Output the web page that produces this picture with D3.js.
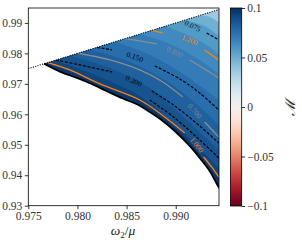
<!DOCTYPE html>
<html><head><meta charset="utf-8">
<script src="https://cdn.jsdelivr.net/npm/d3@7"></script>
<style>body{margin:0;background:#fff}text{font-family:"Liberation Serif","DejaVu Serif",serif}</style>
</head><body><svg id="c" width="302" height="243"></svg>
<script>
// ---------- data ----------
const xTicks = [0.975, 0.980, 0.985, 0.990];
const yTicks = [0.93, 0.94, 0.95, 0.96, 0.97, 0.98, 0.99];
const cbTicks = [0.1, 0.05, 0, -0.05, -0.1];
const xDomain = [0.975, 0.9944];
const yDomain = [0.93, 0.9949];
const cbDomain = [-0.1, 0.1];

// existence (lower) boundary
const lowerBoundary = [[0.97660,0.97660],[0.97822,0.97401],[0.97995,0.97194],[0.98127,0.97020],[0.98296,0.96767],
  [0.98462,0.96521],[0.98634,0.96284],[0.98736,0.96077],[0.98868,0.95782],[0.98990,0.95453],[0.99142,0.94961],
  [0.99244,0.94566],[0.99345,0.94140],[0.99437,0.93614],[0.99470,0.93480]];

// M value of each filled band, from top-right (lightest) to bottom (darkest)
const bandValues = [0.036, 0.048, 0.057, 0.064, 0.070, 0.076, 0.082, 0.087, 0.092, 0.097];
// band edges (contourf boundaries), each from the diagonal to the right edge
const edge1 = [[0.99244,0.99244],[0.99345,0.99197],[0.99437,0.99033]];
const edge2 = [[0.99091,0.99091],[0.99294,0.98901],[0.99437,0.98573]];
const edge3 = [[0.98888,0.98888],[0.99142,0.98573],[0.99345,0.98212],[0.99437,0.97982]];
const edge4 = [[0.98634,0.98634],[0.98939,0.98310],[0.99244,0.97785],[0.99437,0.97325]];
const edge5 = [[0.98380,0.98380],[0.98736,0.97949],[0.99091,0.97292],[0.99437,0.96471]];
const edge6 = [[0.98127,0.98127],[0.98533,0.97719],[0.98939,0.97029],[0.99244,0.96241],[0.99437,0.95650]];
const edge7 = [[0.97923,0.97923],[0.98330,0.97522],[0.98736,0.96865],[0.99091,0.95880],[0.99437,0.94829]];
const edge8 = [[0.97771,0.97771],[0.98228,0.97227],[0.98634,0.96603],[0.98990,0.95683],[0.99437,0.94238]];
const edge9 = [[0.97690,0.97690],[0.98127,0.97128],[0.98634,0.96438],[0.99041,0.95420],[0.99437,0.93910]];
const bandEdges = [edge1, edge2, edge3, edge4, edge5, edge6, edge7, edge8, edge9];

// overlaid contour lines (segments broken by their inline labels)
const dashed075 = {text:"0.075", label:[0.99173,0.98901],
  segs:[[[0.99315,0.98672],[0.99437,0.98442]]]};
const dashed150 = {text:"0.150", label:[0.98584,0.97883],
  segs:[[[0.98198,0.98198],[0.98350,0.98113]],
        [[0.98787,0.97588],[0.99041,0.97161],[0.99244,0.96701],[0.99437,0.96143]]]};
const dashed200 = {text:"0.200", label:[0.98573,0.97095],
  segs:[[[0.97781,0.97781],[0.98025,0.97621],[0.98350,0.97391]],
        [[0.98756,0.96767],[0.98990,0.96274],[0.99244,0.95617],[0.99437,0.95059]]]};
const dashed250 = {text:null, label:null,
  segs:[[[0.98736,0.96471],[0.98990,0.95880],[0.99244,0.95158],[0.99437,0.94566]]]};
const gray800 = {text:"0.800", label:[0.98990,0.98048],
  segs:[[[0.98482,0.98482],[0.98634,0.98409],[0.98807,0.98310]],
        [[0.99142,0.97785],[0.99294,0.97489],[0.99437,0.97194]]]};
const gray700 = {text:"0.700", label:[0.99193,0.96110],
  segs:[[[0.98005,0.98005],[0.98330,0.97785],[0.98634,0.97456],[0.98868,0.97062],[0.99071,0.96570]],
        [[0.99294,0.95749],[0.99437,0.95256]]]};
const orange1200 = {text:"1.200", label:[0.99142,0.98442],
  segs:[[[0.98756,0.98756],[0.98868,0.98672]],
        [[0.99294,0.98113],[0.99437,0.97785]]]};
const orange1000 = {text:"1.000", label:[0.99213,0.94993],
  segs:[[[0.97700,0.97700],[0.97923,0.97456],[0.98228,0.96997],[0.98634,0.96471],[0.98888,0.95913],[0.99091,0.95387]],
        [[0.99284,0.94599],[0.99365,0.94271],[0.99437,0.93943]]]};

// ---------- layout ----------
const svg = d3.select("#c");
const x = d3.scaleLinear().domain(xDomain).range([28.3, 219]);
const y = d3.scaleLinear().domain(yDomain).range([205.7, 8]);
const cb = d3.scaleLinear().domain(cbDomain).range([206, 8]);
const color = v => d3.interpolateRdBu((v - cbDomain[0]) / (cbDomain[1] - cbDomain[0]));

const defs = svg.append("defs");
defs.append("clipPath").attr("id","axclip").append("rect")
  .attr("x",x(xDomain[0])).attr("y",y(yDomain[1]))
  .attr("width",x(xDomain[1])-x(xDomain[0])).attr("height",y(yDomain[0])-y(yDomain[1]));

const smooth = d3.line().x(d=>x(d[0])).y(d=>y(d[1])).curve(d3.curveCatmullRom.alpha(0.5));
const regionD = smooth(lowerBoundary) + "L" + x(0.9960) + "," + y(0.9300) + "L" + x(0.9960) + "," + y(0.9960) + "Z";
defs.append("clipPath").attr("id","regclip").append("path").attr("d", regionD);

const gAx = svg.append("g").attr("clip-path","url(#axclip)");
const gReg = gAx.append("g").attr("clip-path","url(#regclip)");

// bands
gReg.append("rect").attr("x",0).attr("y",0).attr("width",302).attr("height",243).attr("fill",color(bandValues[0]));
bandEdges.forEach((e,i) => {
  const last = e[e.length-1];
  const d = smooth(e) + "L" + x(0.9960) + "," + y(last[1]) + "L" + x(0.9960) + "," + y(0.92)
    + "L" + x(0.970) + "," + y(0.92) + "L" + x(0.970) + "," + y(0.970) + "Z";
  gReg.append("path").attr("d", d).attr("fill", color(bandValues[i+1]));
});

// contour lines
function drawContour(c, stroke, dash, width){
  c.segs.forEach(s => {
    gReg.append("path").attr("d", smooth(s)).attr("fill","none").attr("stroke",stroke)
      .attr("stroke-width",width).attr("stroke-dasharray",dash);
  });
  if (c.text) {
    const pts = c.segs.flat().slice().sort((a,b)=>a[0]-b[0]);
    let before = pts.filter(p=>p[0]<c.label[0]).pop();
    let after = pts.find(p=>p[0]>c.label[0]);
    if (!before) { before = c.label; }
    if (!after) { after = c.label; }
    const ang = Math.atan2(y(after[1])-y(before[1]), x(after[0])-x(before[0]))*180/Math.PI;
    gAx.append("text").attr("transform",`translate(${x(c.label[0])},${y(c.label[1])}) rotate(${ang})`)
      .attr("text-anchor","middle").attr("dominant-baseline","central")
      .attr("font-size",7.5).attr("fill",stroke).text(c.text);
  }
}
[dashed075, dashed150, dashed200, dashed250].forEach(c => drawContour(c, "#000", "3,1.6", 1.2));
[gray800, gray700].forEach(c => drawContour(c, "#8c8c8c", null, 1.3));
[orange1200, orange1000].forEach(c => drawContour(c, "#ff7f0e", null, 1.3));

// boundary lines
gAx.append("path").attr("d", smooth(lowerBoundary)).attr("fill","none").attr("stroke","#000").attr("stroke-width",1.8);
gAx.append("path").attr("d", d3.line().x(d=>x(d[0])).y(d=>y(d[1]))([[xDomain[0],xDomain[0]],[xDomain[1],xDomain[1]]]))
  .attr("fill","none").attr("stroke","#000").attr("stroke-width",1.1).attr("stroke-dasharray","1.1,1.3");

// axes frame
svg.append("rect").attr("x",x(xDomain[0])).attr("y",y(yDomain[1]))
  .attr("width",x(xDomain[1])-x(xDomain[0])).attr("height",y(yDomain[0])-y(yDomain[1]))
  .attr("fill","none").attr("stroke","#000").attr("stroke-width",0.8);

const xAxis = svg.append("g").attr("transform",`translate(0,${y(yDomain[0])})`)
  .call(d3.axisBottom(x).tickValues(xTicks).tickFormat(d3.format(".3f")).tickSize(3.5).tickPadding(2.5));
const yAxis = svg.append("g").attr("transform",`translate(${x(xDomain[0])},0)`)
  .call(d3.axisLeft(y).tickValues(yTicks).tickFormat(d3.format(".2f")).tickSize(3.5).tickPadding(2.5));
[xAxis,yAxis].forEach(a=>{ a.select(".domain").remove();
  a.selectAll("text").attr("font-family","Liberation Serif").attr("font-size",11.5).attr("fill","#333");
  a.selectAll("line").attr("stroke","#000").attr("stroke-width",0.8); });

// x label
const xl = svg.append("text").attr("x",123).attr("y",235).attr("text-anchor","middle").attr("font-size",13.5).attr("fill","#222");
xl.append("tspan").attr("font-style","italic").text("ω");
xl.append("tspan").attr("font-size",9).attr("dy",2.5).text("2");
xl.append("tspan").attr("dy",-2.5).text("/");
xl.append("tspan").attr("font-style","italic").text("μ");

// colorbar
const grad = defs.append("linearGradient").attr("id","cbg").attr("x1",0).attr("y1",1).attr("x2",0).attr("y2",0);
d3.range(0,1.0001,0.05).forEach(t => grad.append("stop").attr("offset",t).attr("stop-color",d3.interpolateRdBu(t)));
svg.append("rect").attr("x",230.5).attr("y",cb(0.1)).attr("width",11.2).attr("height",cb(-0.1)-cb(0.1))
  .attr("fill","url(#cbg)").attr("stroke","#000").attr("stroke-width",0.8);
const cbAxis = svg.append("g").attr("transform","translate(241.7,0)")
  .call(d3.axisRight(cb).tickValues(cbTicks).tickFormat(d => d===0 ? "0" : d3.format("")(d).replace("-","−")).tickSize(3.5).tickPadding(2));
cbAxis.select(".domain").remove();
cbAxis.selectAll("text").attr("font-family","Liberation Serif").attr("font-size",11.5).attr("fill","#333");
cbAxis.selectAll("line").attr("stroke","#000").attr("stroke-width",0.8);

svg.append("text").attr("transform","translate(290,108) rotate(-90)").attr("text-anchor","middle")
  .attr("dominant-baseline","central").attr("font-size",14).attr("font-style","italic")
  .attr("font-family","Liberation Serif").attr("fill","#222").text("ℳ");
</script></body></html>
